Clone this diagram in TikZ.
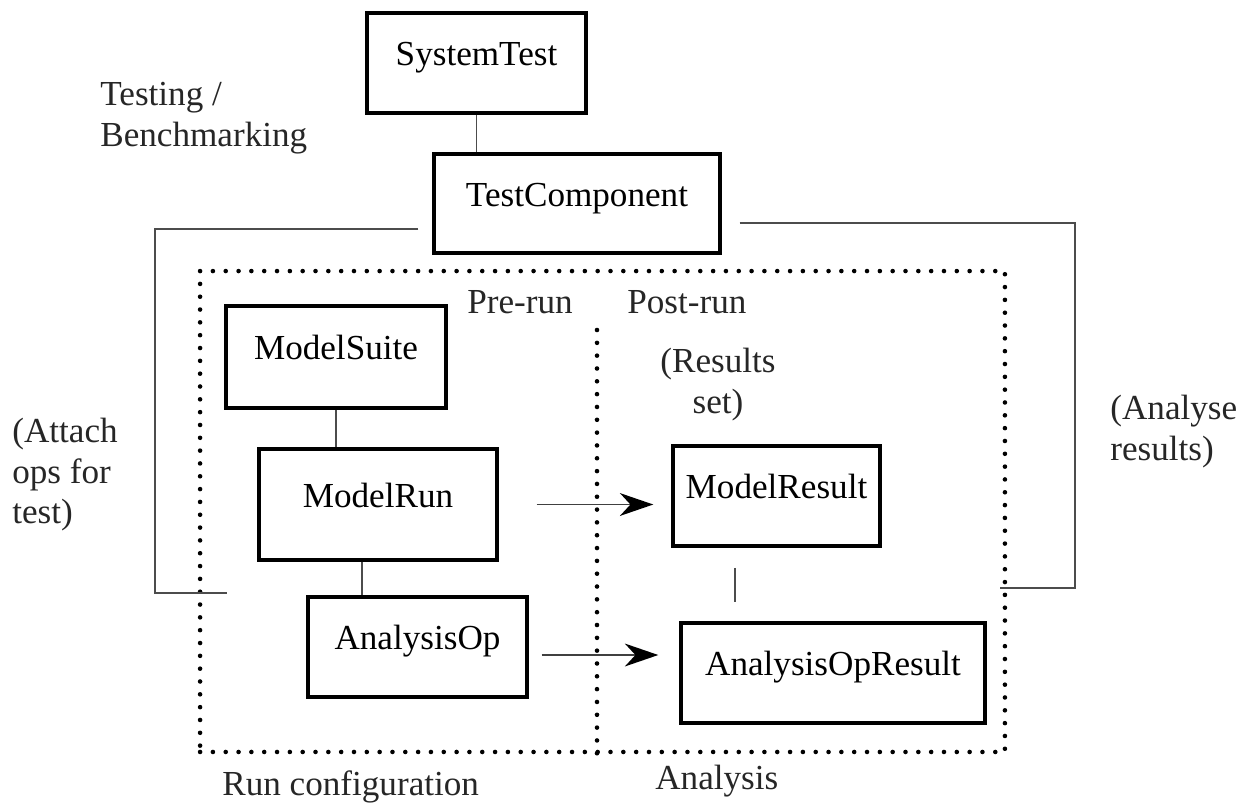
\documentclass[tikz,border=0pt]{standalone}
\usepackage{fontspec}
\setmainfont{Liberation Serif}
\usetikzlibrary{arrows.meta,positioning}

\begin{document}
\begin{tikzpicture}[
  x=0.02cm, y=-0.02cm,
  font=\fontsize{20}{23}\selectfont,
  link/.style={draw=gray!60!black, line width=1.1pt},
  flow/.style={-{Stealth[length=19pt,width=13pt,inset=6pt,color=black]}, line width=1.1pt, draw=gray!50!black},
  block/.style={
    draw=black,
    line width=2pt,
    minimum width=#1,
    minimum height=2cm,
    inner sep=0pt,
    text height=14pt,
    text depth=11pt
  },
  frame/.style={
    draw=black,
    line width=2.6pt,
    line cap=round,
    dash pattern=on 0pt off 7.3pt,
    inner sep=0pt
  },
  note/.style={anchor=north west, inner sep=0pt, align=left, text=black!85}
]
\useasboundingbox (0,0) rectangle (1243,802);

\node[frame, minimum width=16.1cm, minimum height=9.62cm] (runframe) at (602.5,511.5) {};
\draw[frame] (597,330) -- (597,0 |- runframe.south);

\node[block=4.38cm] (sys) at (476.5,63) {SystemTest};
\node[block=5.72cm, minimum height=1.98cm] (tc) at (577,203.5) {TestComponent};
\node[block=4.4cm, minimum height=2.04cm] (suite) at (336,357) {ModelSuite};
\node[block=4.76cm, minimum height=2.22cm] (run) at (378,504.5) {ModelRun};
\node[block=4.38cm] (op) at (417.5,647) {AnalysisOp};
\node[block=4.14cm] (res) at (776.5,496) {ModelResult};
\node[block=6.08cm] (opres) at (833,673) {AnalysisOpResult};

\node[note] (testing) at (100,82) {Testing /\\Benchmarking};
\node[note] (attachnote) at (12,418) {(Attach\\ops for\\test)};
\node[note] (analysenote) at (1110,395) {(Analyse\\results)};
\node[note] (prerun) at (467,290) {Pre-run};
\node[note] (postrun) at (627,290) {Post-run};
\node[note, align=center] (resultsset) at (660,348) {(Results\\set)};
\node[note] (runconfig) at (222,770) {Run configuration};
\node[note] (analysis) at (655,765) {Analysis};

\draw[link] (sys.south) -- (sys.south |- tc.north);
\draw[link] (suite.south) -- (suite.south |- run.north);
\draw[link] ([xshift=-0.32cm]run.south) -- ([xshift=-0.32cm]run.south |- op.north);
\draw[link, shorten <=0.4cm, shorten >=0.38cm] ([xshift=-0.83cm]res.south) -- ([xshift=-0.83cm]res.south |- opres.north);

\coordinate (attach) at (227,593);
\draw[link] ([shift={(-0.28cm,-0.51cm)}]tc.west) -| ([xshift=-1.44cm]attach) -- (attach);
\coordinate (analyse) at (1000,588);
\draw[link] ([shift={(0.36cm,-0.39cm)}]tc.east) -| ([xshift=1.5cm]analyse) -- (analyse);

\draw[flow, shorten >=0.36cm] ([xshift=0.76cm]run.east) -- (run.east -| res.west);
\draw[flow, shorten >=0.42cm] ([shift={(0.26cm,-0.16cm)}]op.east) coordinate (opout) -- (opout -| opres.west);

\end{tikzpicture}
\end{document}
